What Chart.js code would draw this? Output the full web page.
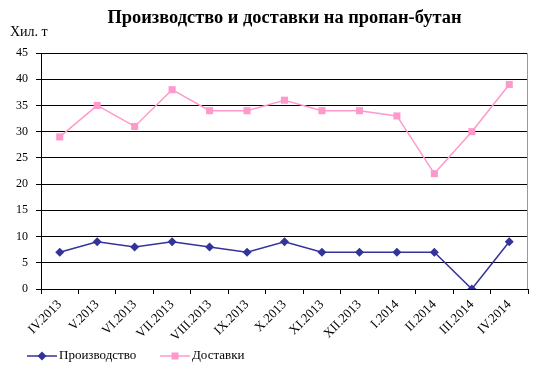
<!DOCTYPE html>
<html>
<head>
<meta charset="utf-8">
<script src="https://cdn.jsdelivr.net/npm/chart.js@4.4.0/dist/chart.umd.min.js"></script>
<style>
  html, body { margin: 0; padding: 0; background: #fff; }
  #wrap { width: 533px; height: 367px; }
</style>
</head>
<body>
<div id="wrap"><canvas id="gasChart" width="533" height="367"></canvas></div>
<script>
const months = ['IV.2013', 'V.2013', 'VI.2013', 'VII.2013', 'VIII.2013', 'IX.2013', 'X.2013',
    'XI.2013', 'XII.2013', 'I.2014', 'II.2014', 'III.2014', 'IV.2014'];
const production = [7, 9, 8, 9, 8, 7, 9, 7, 7, 7, 7, 0, 9];
const deliveries = [29, 35, 31, 38, 34, 34, 36, 34, 34, 33, 22, 30, 39];
const yTicks = [0, 5, 10, 15, 20, 25, 30, 35, 40, 45];

const titleText = 'Производство и доставки на пропан-бутан';
const unitText = 'Хил. т';
const serif = '"Liberation Serif", "Times New Roman", serif';

function drawMarker(ctx, style, x, y, r, color) {
    ctx.fillStyle = color;
    ctx.beginPath();
    if (style === 'rectRot') {
        ctx.moveTo(x, y - r);
        ctx.lineTo(x + r, y);
        ctx.lineTo(x, y + r);
        ctx.lineTo(x - r, y);
    } else {
        const s = r * Math.SQRT1_2;
        ctx.rect(x - s, y - s, 2 * s, 2 * s);
    }
    ctx.closePath();
    ctx.fill();
}

// right frame line of the plot area
const plotFrame = {
    id: 'plotFrame',
    beforeDatasetsDraw(chart) {
        const ctx = chart.ctx;
        const area = chart.chartArea;
        ctx.save();
        ctx.strokeStyle = '#999';
        ctx.lineWidth = 1;
        ctx.beginPath();
        ctx.moveTo(area.right - 0.5, area.top);
        ctx.lineTo(area.right - 0.5, area.bottom);
        ctx.stroke();
        ctx.restore();
    }
};

// title, unit label and legend
const decorations = {
    id: 'decorations',
    afterDraw(chart) {
        const ctx = chart.ctx;
        const area = chart.chartArea;
        ctx.save();
        ctx.fillStyle = '#000';
        ctx.textBaseline = 'middle';
        ctx.textAlign = 'center';
        ctx.font = 'bold 18.4px ' + serif;
        ctx.fillText(titleText, (area.left + area.right) / 2, 18);

        ctx.textAlign = 'left';
        ctx.font = '14px ' + serif;
        ctx.fillText(unitText, 10, 32);

        const legendX = [27, 160];
        chart.data.datasets.forEach((ds, i) => {
            const x = legendX[i];
            const y = 356;
            ctx.strokeStyle = ds.borderColor;
            ctx.lineWidth = 1.5;
            ctx.beginPath();
            ctx.moveTo(x, y);
            ctx.lineTo(x + 30, y);
            ctx.stroke();
            drawMarker(ctx, ds.pointStyle, x + 15, y, ds.pointRadius, ds.pointBackgroundColor);
            ctx.fillStyle = '#000';
            ctx.font = '13px ' + serif;
            ctx.textAlign = 'left';
            ctx.fillText(ds.label, x + 32, y);
        });
        ctx.restore();
    }
};

const ctx = document.getElementById('gasChart').getContext('2d');
const gasChart = new Chart(ctx, {
    type: 'line',
    data: {
        labels: months,
        datasets: [{
            label: 'Производство',
            data: production,
            borderColor: '#333399',
            backgroundColor: '#333399',
            pointBackgroundColor: '#333399',
            pointBorderColor: '#333399',
            borderWidth: 1.5,
            pointStyle: 'rectRot',
            pointRadius: 4.5,
            pointBorderWidth: 0,
            tension: 0
        }, {
            label: 'Доставки',
            data: deliveries,
            borderColor: '#FF99CC',
            backgroundColor: '#FF99CC',
            pointBackgroundColor: '#FF99CC',
            pointBorderColor: '#FF99CC',
            borderWidth: 1.5,
            pointStyle: 'rect',
            pointRadius: 5,
            pointBorderWidth: 0,
            tension: 0
        }]
    },
    options: {
        responsive: false,
        animation: false,
        layout: {
            padding: { top: 53, right: 1, left: 0, bottom: 0 }
        },
        scales: {
            x: {
                offset: true,
                grid: {
                    display: true,
                    offset: true,
                    drawOnChartArea: false,
                    drawTicks: true,
                    tickLength: 5,
                    color: '#000'
                },
                border: { color: '#000', width: 1 },
                ticks: {
                    autoSkip: false,
                    maxRotation: 45,
                    minRotation: 45,
                    padding: 3,
                    color: '#000',
                    font: { family: serif, size: 13 }
                },
                afterFit(scale) {
                    scale.height = 78;
                }
            },
            y: {
                min: 0,
                max: 45,
                afterBuildTicks(scale) {
                    scale.ticks = yTicks.map(v => ({ value: v }));
                },
                grid: {
                    color: '#000',
                    lineWidth: 1,
                    drawTicks: true,
                    tickLength: 5
                },
                border: { color: '#000', width: 1 },
                ticks: {
                    padding: 8,
                    color: '#000',
                    font: { family: serif, size: 12 }
                },
                afterFit(scale) {
                    scale.width = 41;
                }
            }
        },
        plugins: {
            legend: { display: false },
            title: { display: false },
            tooltip: { enabled: false }
        }
    },
    plugins: [plotFrame, decorations]
});
</script>
</body>
</html>
